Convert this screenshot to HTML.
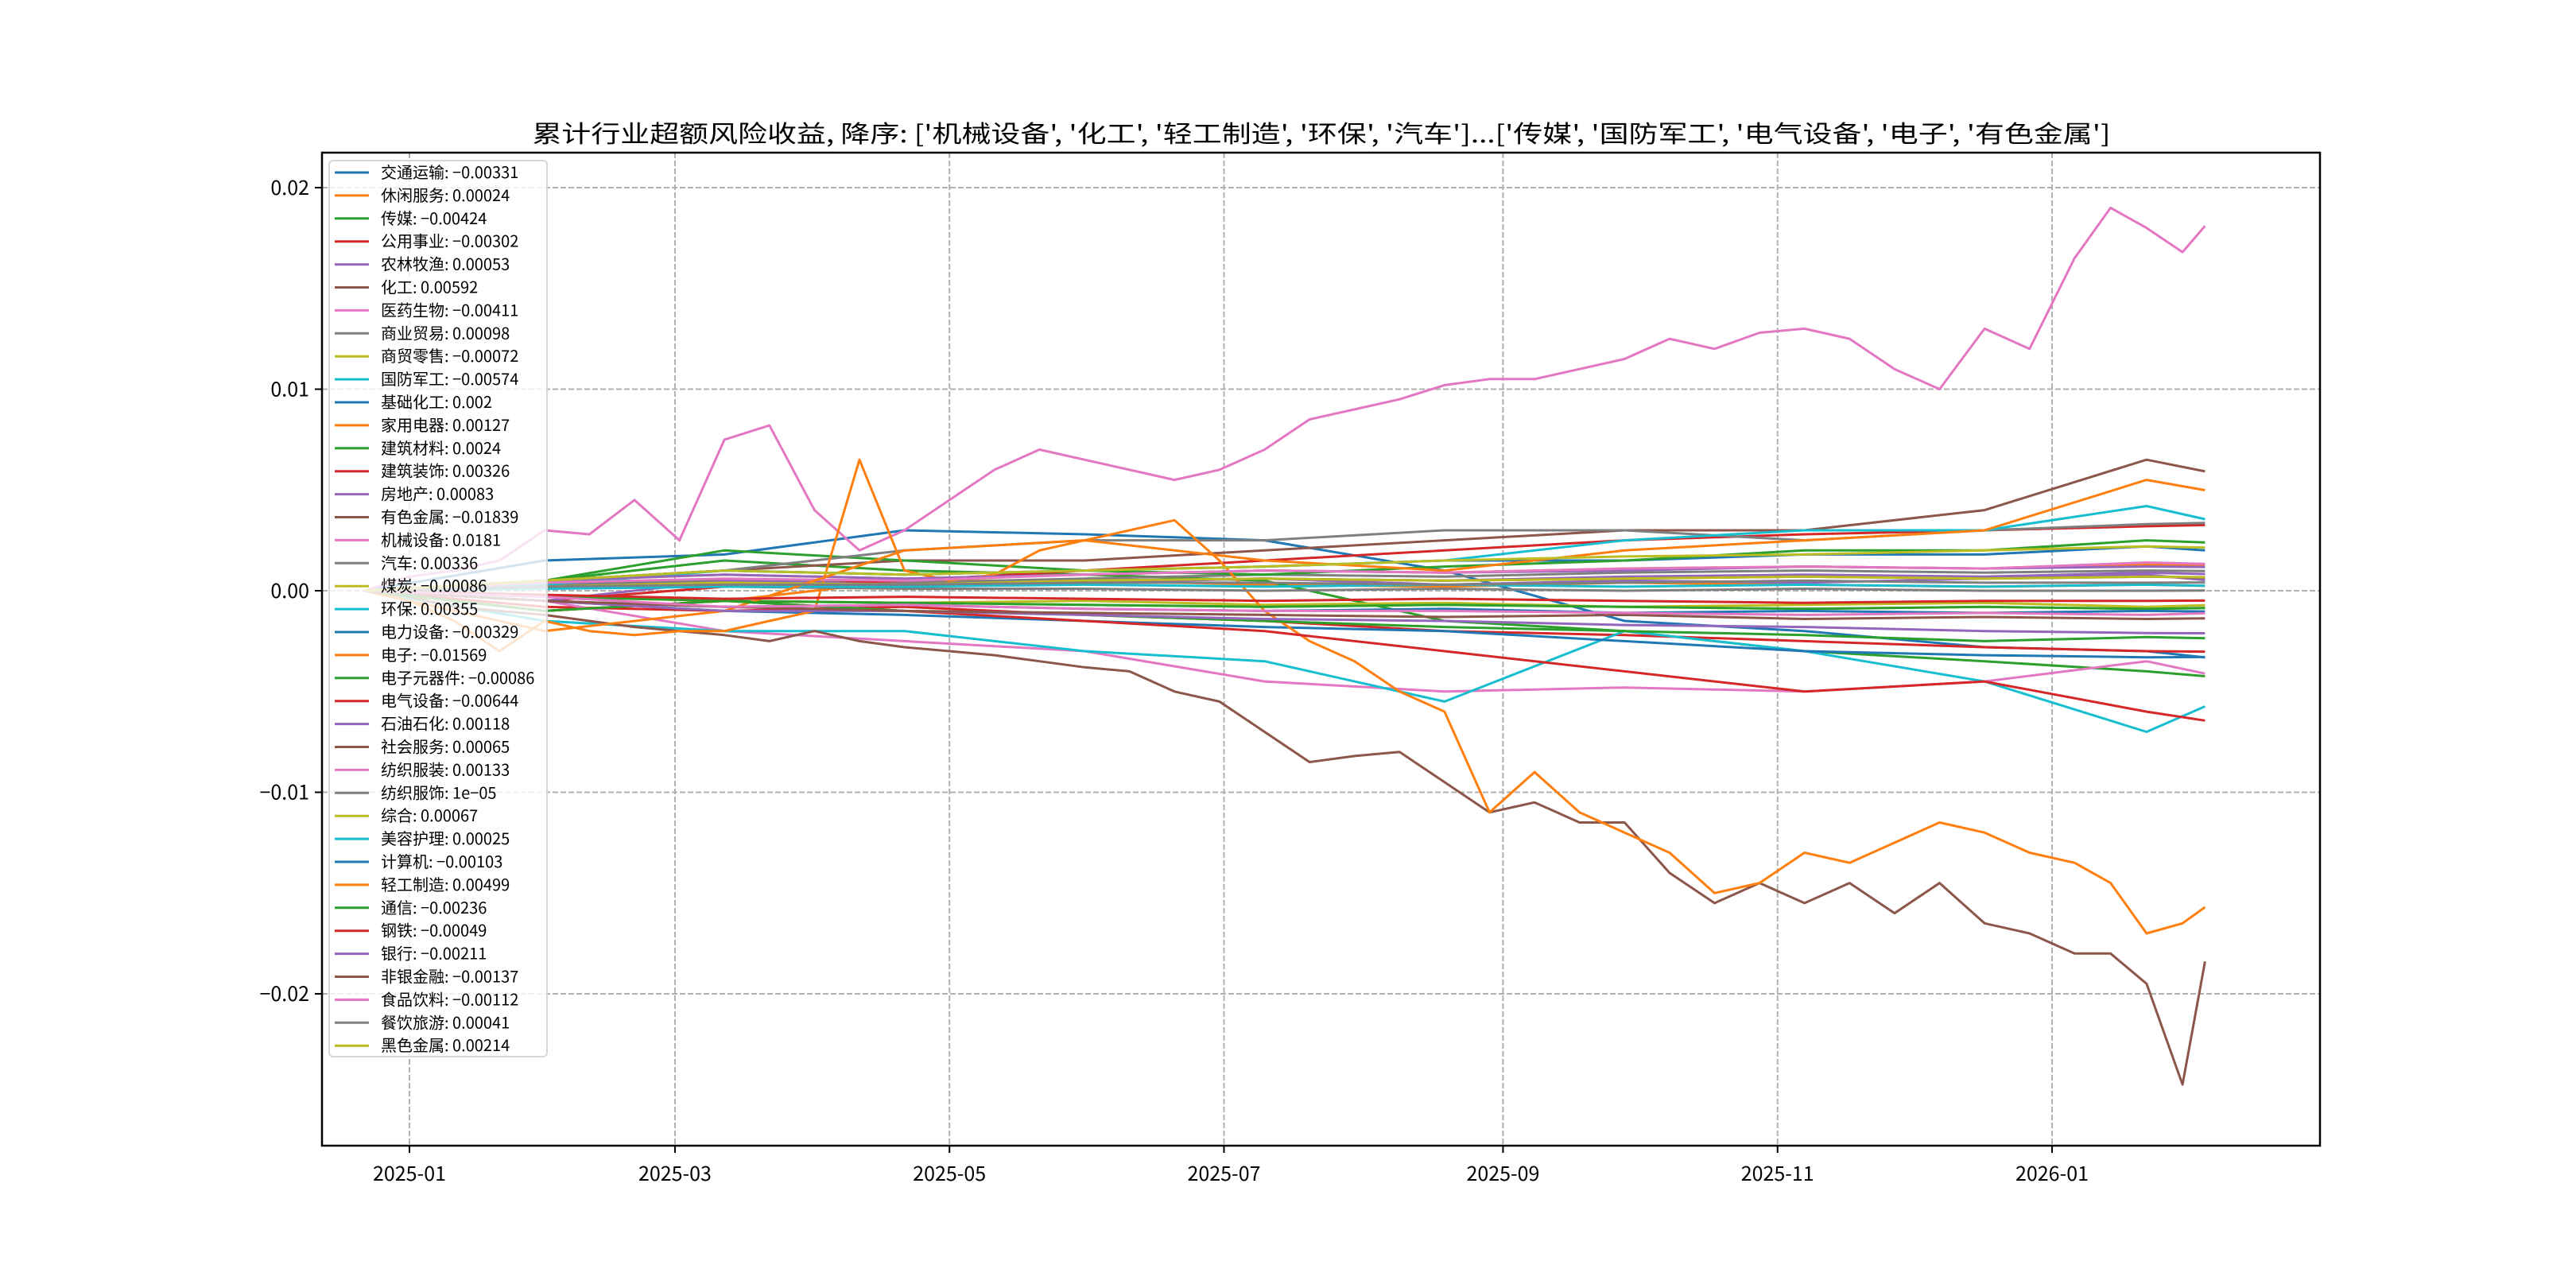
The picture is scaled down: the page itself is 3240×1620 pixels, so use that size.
<!DOCTYPE html>
<html><head><meta charset="utf-8"><style>
html,body{margin:0;padding:0;background:#fff;}
svg{display:block;font-family:"WenQuanYi Zen Hei","Noto Sans CJK SC","Liberation Sans",sans-serif;}
</style></head><body>
<svg id="chart" width="3240" height="1620" viewBox="0 0 3240 1620" xmlns="http://www.w3.org/2000/svg"></svg>
<script>
// ---------- data ----------
const majorDays = [-10,0,10,20,30,40,50,60,70,80,90,100,110,120,130,140,150,160,170,180,190,200,210,220,230,240,250,260,270,280,290,300,310,320,330,340,350,360,370,378,386,394,399];
const minorDays = [-10,30,70,110,150,190,230,270,310,350,386,399];
const seriesNames = ["交通运输","休闲服务","传媒","公用事业","农林牧渔","化工","医药生物","商业贸易","商贸零售","国防军工","基础化工","家用电器","建筑材料","建筑装饰","房地产","有色金属","机械设备","汽车","煤炭","环保","电力设备","电子","电子元器件","电气设备","石油石化","社会服务","纺织服装","纺织服饰","综合","美容护理","计算机","轻工制造","通信","钢铁","银行","非银金融","食品饮料","餐饮旅游","黑色金属"];
const legendValues = ["-0.00331","0.00024","-0.00424","-0.00302","0.00053","0.00592","-0.00411","0.00098","-0.00072","-0.00574","0.002","0.00127","0.0024","0.00326","0.00083","-0.01839","0.0181","0.00336","-0.00086","0.00355","-0.00329","-0.01569","-0.00086","-0.00644","0.00118","0.00065","0.00133","1e-05","0.00067","0.00025","-0.00103","0.00499","-0.00236","-0.00049","-0.00211","-0.00137","-0.00112","0.00041","0.00214"];
const jixieValues = [0,0.0007,0.001,0.0015,0.003,0.0028,0.0045,0.0025,0.0075,0.0082,0.004,0.002,0.003,0.0045,0.006,0.007,0.0065,0.006,0.0055,0.006,0.007,0.0085,0.009,0.0095,0.0102,0.0105,0.0105,0.011,0.0115,0.0125,0.012,0.0128,0.013,0.0125,0.011,0.01,0.013,0.012,0.0165,0.019,0.018,0.0168,0.0181];
const youseValues = [0,-0.0003,-0.0008,-0.001,-0.0012,-0.0015,-0.0018,-0.002,-0.0022,-0.0025,-0.002,-0.0025,-0.0028,-0.003,-0.0032,-0.0035,-0.0038,-0.004,-0.005,-0.0055,-0.007,-0.0085,-0.0082,-0.008,-0.0095,-0.011,-0.0105,-0.0115,-0.0115,-0.014,-0.0155,-0.0145,-0.0155,-0.0145,-0.016,-0.0145,-0.0165,-0.017,-0.018,-0.018,-0.0195,-0.0245,-0.0184];
const dianziValues = [0,-0.0005,-0.0015,-0.003,-0.0015,-0.002,-0.0022,-0.002,-0.002,-0.0015,-0.001,0.0065,0.001,0.0005,0.0008,0.002,0.0025,0.003,0.0035,0.0015,-0.001,-0.0025,-0.0035,-0.005,-0.006,-0.011,-0.009,-0.011,-0.012,-0.013,-0.015,-0.0145,-0.013,-0.0135,-0.0125,-0.0115,-0.012,-0.013,-0.0135,-0.0145,-0.017,-0.0165,-0.0157];
const minorValues = {
"交通运输":[0,0.0015,0.0018,0.003,0.0028,0.0025,0.001,-0.0015,-0.002,-0.0028,-0.003,-0.00331],
"休闲服务":[0,-0.001,-0.0005,0.0005,0.0005,0.0003,0.0002,0.0004,0.0003,0.0002,0.0003,0.00024],
"传媒":[0,0.0005,0.0015,0.001,0.0008,0.0005,-0.0015,-0.002,-0.003,-0.0035,-0.004,-0.00424],
"公用事业":[0,-0.0008,-0.001,-0.0008,-0.0012,-0.0015,-0.002,-0.0022,-0.0025,-0.0028,-0.003,-0.00302],
"农林牧渔":[0,0.0003,0.0005,0.0002,0.0004,0.0006,0.0003,0.0005,0.0004,0.0006,0.0008,0.00053],
"化工":[0,0.0005,0.001,0.0015,0.0015,0.002,0.0025,0.003,0.003,0.004,0.0065,0.00592],
"医药生物":[0,-0.0005,-0.002,-0.0025,-0.003,-0.0045,-0.005,-0.0048,-0.005,-0.0045,-0.0035,-0.00411],
"商业贸易":[0,0.0003,0.0005,0.0004,0.0006,0.0008,0.0007,0.0009,0.001,0.0009,0.001,0.00098],
"商贸零售":[0,-0.0003,-0.0005,-0.0006,-0.0005,-0.0007,-0.0006,-0.0008,-0.0007,-0.0006,-0.0008,-0.00072],
"国防军工":[0,-0.0015,-0.002,-0.002,-0.003,-0.0035,-0.0055,-0.002,-0.003,-0.0045,-0.007,-0.00574],
"基础化工":[0,0.0005,0.001,0.0008,0.001,0.0012,0.0015,0.0015,0.0018,0.0018,0.0022,0.002],
"家用电器":[0,0.0005,0.0008,0.0006,0.0008,0.001,0.0009,0.0011,0.0012,0.0011,0.0013,0.00127],
"建筑材料":[0,0.0005,0.002,0.0015,0.001,0.0008,0.0012,0.0015,0.002,0.002,0.0025,0.0024],
"建筑装饰":[0,-0.0005,0.0002,0.0005,0.001,0.0015,0.002,0.0025,0.0028,0.003,0.0032,0.00326],
"房地产":[0,-0.0005,0.0005,0.0003,0.0005,0.0006,0.0005,0.0007,0.0008,0.0007,0.0009,0.00083],
"汽车":[0,0.0005,0.001,0.002,0.0025,0.0025,0.003,0.003,0.0025,0.003,0.0033,0.00336],
"煤炭":[0,-0.0003,-0.0005,-0.0006,-0.0007,-0.0008,-0.0007,-0.0008,-0.0009,-0.0008,-0.0009,-0.00086],
"环保":[0,0.0003,0.001,0.0008,0.001,0.0012,0.0015,0.0025,0.003,0.003,0.0042,0.00355],
"电力设备":[0,-0.0005,-0.001,-0.0012,-0.0015,-0.0018,-0.002,-0.0025,-0.003,-0.0032,-0.0033,-0.00329],
"电子元器件":[0,-0.0003,-0.0005,-0.0006,-0.0007,-0.0008,-0.0007,-0.0008,-0.0009,-0.0008,-0.0009,-0.00086],
"电气设备":[0,-0.001,-0.0005,-0.001,-0.0015,-0.002,-0.003,-0.004,-0.005,-0.0045,-0.006,-0.00644],
"石油石化":[0,0.0005,0.0008,0.0006,0.0008,0.001,0.0009,0.001,0.0012,0.0011,0.0012,0.00118],
"社会服务":[0,0.0002,0.0004,0.0003,0.0005,0.0006,0.0005,0.0006,0.0007,0.0006,0.0007,0.00065],
"纺织服装":[0,0.0004,0.0006,0.0005,0.0008,0.001,0.0009,0.0011,0.0012,0.0011,0.0014,0.00133],
"纺织服饰":[0,0.0001,0.0002,0.0001,0.0001,0,0.0001,0,0.0001,0,0,0.00001],
"综合":[0,0.0002,0.0004,0.0003,0.0005,0.0006,0.0005,0.0006,0.0007,0.0006,0.0007,0.00067],
"美容护理":[0,0.0001,0.0002,0.0002,0.0003,0.0002,0.0003,0.0002,0.0003,0.0002,0.0003,0.00025],
"计算机":[0,-0.0005,-0.0008,-0.0007,-0.0009,-0.001,-0.0009,-0.0011,-0.001,-0.0011,-0.001,-0.00103],
"轻工制造":[0,-0.002,-0.001,0.002,0.0025,0.0015,0.001,0.002,0.0025,0.003,0.0055,0.00499],
"通信":[0,-0.001,-0.0005,-0.001,-0.0012,-0.0015,-0.0018,-0.002,-0.0022,-0.0025,-0.0023,-0.00236],
"钢铁":[0,-0.0002,-0.0004,-0.0003,-0.0004,-0.0005,-0.0004,-0.0005,-0.0006,-0.0005,-0.0005,-0.00049],
"银行":[0,-0.0005,-0.001,-0.001,-0.0012,-0.0014,-0.0015,-0.0017,-0.0018,-0.002,-0.0021,-0.00211],
"非银金融":[0,-0.0005,-0.0008,-0.001,-0.0011,-0.0012,-0.0013,-0.0012,-0.0014,-0.0013,-0.0014,-0.00137],
"食品饮料":[0,-0.0003,-0.0008,-0.0007,-0.0009,-0.001,-0.001,-0.0011,-0.0012,-0.0011,-0.0012,-0.00112],
"餐饮旅游":[0,0.0002,0.0003,0.0003,0.0004,0.0004,0.0003,0.0004,0.0005,0.0004,0.0004,0.00041],
"黑色金属":[0,0.0005,0.001,0.0008,0.001,0.0012,0.0015,0.0017,0.0018,0.002,0.0022,0.00214]
};
const xTickLabels = ["2025-01","2025-03","2025-05","2025-07","2025-09","2025-11","2026-01"];
const xTickDays = [0,59,120,181,243,304,365];
const yTickValues = [-0.02,-0.01,0,0.01,0.02];
const yTickLabels = ["−0.02","−0.01","0.00","0.01","0.02"];
const titleText = "累计行业超额风险收益,  降序: ['机械设备', '化工', '轻工制造', '环保', '汽车']...['传媒', '国防军工', '电气设备', '电子', '有色金属']";

// ---------- layout ----------
const L=405,R=2918,T=192,B=1441;
const x=d=>515+d*(2066/365);
const y=v=>743-v*25350;
const colors=["#1f77b4","#ff7f0e","#2ca02c","#d62728","#9467bd","#8c564b","#e377c2","#7f7f7f","#bcbd22","#17becf"];
const NS="http://www.w3.org/2000/svg";
const svg=document.getElementById('chart');
function mk(tag,attrs,parent){const e=document.createElementNS(NS,tag);for(const k in attrs)e.setAttribute(k,attrs[k]);(parent||svg).appendChild(e);return e;}

// grid
const grid=mk('g',{});


xTickDays.forEach(d=>mk('line',{x1:x(d),x2:x(d),y1:T,y2:B,stroke:'#b0b0b0','stroke-width':2,'stroke-dasharray':'7,3'},grid));
yTickValues.forEach(v=>mk('line',{x1:L,x2:R,y1:y(v),y2:y(v),stroke:'#b0b0b0','stroke-width':2,'stroke-dasharray':'7,3'},grid));

// series
const clip=mk('clipPath',{id:'pc'});mk('rect',{x:L,y:T,width:R-L,height:B-T},clip);
const lines=mk('g',{'clip-path':'url(#pc)'});


seriesNames.forEach((n,i)=>{
  let days,vals;
  if(n==="机械设备"){days=majorDays;vals=jixieValues;}
  else if(n==="有色金属"){days=majorDays;vals=youseValues;}
  else if(n==="电子"){days=majorDays;vals=dianziValues;}
  else {days=minorDays;vals=minorValues[n];}
  const pts=vals.map((v,j)=>x(days[j]).toFixed(1)+','+y(v).toFixed(1)).join(' ');
  const p=mk('polyline',{points:pts,fill:'none',stroke:colors[i%10],'stroke-width':3,'stroke-linejoin':'round'},lines);
  
  
});

// axes frame
const frame=mk('rect',{x:L,y:T,width:R-L,height:B-T,fill:'none',stroke:'#000','stroke-width':2.5});



// ticks
const xt=mk('g',{});


xTickDays.forEach((d,i)=>{
  mk('line',{x1:x(d),x2:x(d),y1:B,y2:B+9,stroke:'#000','stroke-width':2},xt);
  const t=mk('text',{x:x(d),y:B+44,'text-anchor':'middle','font-size':25,fill:'#000'},xt);t.textContent=xTickLabels[i];
});
const yt=mk('g',{});


yTickValues.forEach((v,i)=>{
  mk('line',{x1:L-9,x2:L,y1:y(v),y2:y(v),stroke:'#000','stroke-width':2},yt);
  const t=mk('text',{x:L-16,y:y(v)+9,'text-anchor':'end','font-size':25,fill:'#000'},yt);t.textContent=yTickLabels[i];
});

// title
const tt=mk('text',{x:1662,y:179,'text-anchor':'middle','font-size':30,fill:'#000',textLength:1985,lengthAdjust:'spacingAndGlyphs'});
tt.textContent=titleText;



// legend
const lg=mk('g',{});


mk('rect',{x:414,y:202,width:274,height:1127,rx:5,fill:'#fff','fill-opacity':0.8,stroke:'#d6d6d6','stroke-width':2},lg);
seriesNames.forEach((n,i)=>{
  const cy=217+i*28.9;
  const e=mk('g',{},lg);
  
  
  mk('line',{x1:421,x2:464,y1:cy,y2:cy,stroke:colors[i%10],'stroke-width':3},e);
  const t=mk('text',{x:479,y:cy+7,'font-size':20,fill:'#000'},e);
  t.textContent=n+': '+legendValues[i].replace('-','−');
});
</script>
</body></html>
